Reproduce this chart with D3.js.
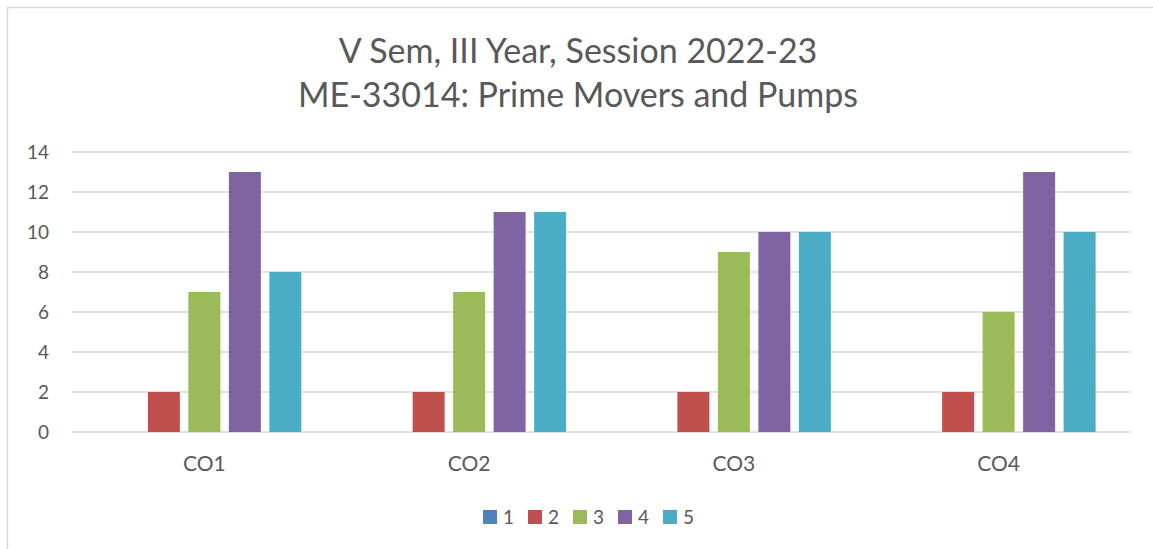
<!DOCTYPE html>
<html>
<head>
<meta charset="utf-8">
<script src="https://cdn.jsdelivr.net/npm/d3@7"></script>
<style>
  body { margin: 0; background: #fff; }
  text { font-family: Lato, "Open Sans", sans-serif; fill: #595959; }
</style>
</head>
<body>
<div id="chart"></div>
<script>
var categories = ["CO1", "CO2", "CO3", "CO4"];
var seriesNames = ["1", "2", "3", "4", "5"];
var series1 = [0, 0, 0, 0];
var series2 = [2, 2, 2, 2];
var series3 = [7, 7, 9, 6];
var series4 = [13, 11, 10, 13];
var series5 = [8, 11, 10, 10];
var yTicks = [0, 2, 4, 6, 8, 10, 12, 14];
var titleLines = ["V Sem, III Year, Session 2022-23", "ME-33014: Prime Movers and Pumps"];

var colors = ["#4f81bd", "#c0504d", "#9bbb59", "#8064a2", "#4bacc6"];
var allSeries = [series1, series2, series3, series4, series5];

var width = 1153, height = 549;
var plotLeft = 72, plotRight = 1131, plotTop = 152, plotBottom = 432;

var svg = d3.select("#chart").append("svg")
  .attr("width", width)
  .attr("height", height);

// chart border
svg.append("rect")
  .attr("x", 7.5).attr("y", 7.5)
  .attr("width", 1160).attr("height", 560)
  .attr("fill", "none")
  .attr("stroke", "#d9d9d9")
  .attr("stroke-width", 1.5);

// title
svg.append("text")
  .attr("text-anchor", "middle")
  .attr("font-size", 34)
  .selectAll("tspan")
  .data(titleLines)
  .enter().append("tspan")
  .attr("x", 578)
  .attr("y", function(d, i) { return 63 + i * 44; })
  .text(function(d) { return d; });

var x0 = d3.scaleBand().domain(categories).range([plotLeft, plotRight]).padding(0);
var x1 = d3.scaleBand().domain(seriesNames).range([0, x0.bandwidth()])
  .paddingInner(0.21).paddingOuter(0.874);
var y = d3.scaleLinear().domain([0, 14]).range([plotBottom, plotTop]);

// gridlines
svg.append("g").selectAll("line")
  .data(yTicks)
  .enter().append("line")
  .attr("x1", plotLeft).attr("x2", plotRight)
  .attr("y1", function(d) { return y(d); })
  .attr("y2", function(d) { return y(d); })
  .attr("stroke", "#d9d9d9")
  .attr("stroke-width", 1.5);

// y labels
svg.append("g").selectAll("text")
  .data(yTicks)
  .enter().append("text")
  .attr("x", 49)
  .attr("y", function(d) { return y(d) + 6.5; })
  .attr("text-anchor", "end")
  .attr("font-size", 19)
  .text(function(d) { return d; });

// bars
var groups = svg.append("g").selectAll("g")
  .data(categories)
  .enter().append("g")
  .attr("transform", function(d) { return "translate(" + x0(d) + ",0)"; });

groups.selectAll("rect")
  .data(function(d, ci) {
    return seriesNames.map(function(s, si) { return { s: s, v: allSeries[si][ci], c: colors[si] }; });
  })
  .enter().append("rect")
  .attr("x", function(d) { return x1(d.s); })
  .attr("width", x1.bandwidth())
  .attr("y", function(d) { return y(d.v); })
  .attr("height", function(d) { return y(0) - y(d.v); })
  .attr("fill", function(d) { return d.c; });

// category labels
svg.append("g").selectAll("text")
  .data(categories)
  .enter().append("text")
  .attr("x", function(d) { return x0(d) + x0.bandwidth() / 2; })
  .attr("y", 471)
  .attr("text-anchor", "middle")
  .attr("font-size", 21)
  .text(function(d) { return d; });

// legend
var legend = svg.append("g").selectAll("g")
  .data(seriesNames)
  .enter().append("g")
  .attr("transform", function(d, i) { return "translate(" + (483 + i * 45) + ",510)"; });

legend.append("rect")
  .attr("width", 14).attr("height", 14)
  .attr("fill", function(d, i) { return colors[i]; });

legend.append("text")
  .attr("x", 20).attr("y", 14)
  .attr("font-size", 19)
  .text(function(d) { return d; });
</script>
</body>
</html>
